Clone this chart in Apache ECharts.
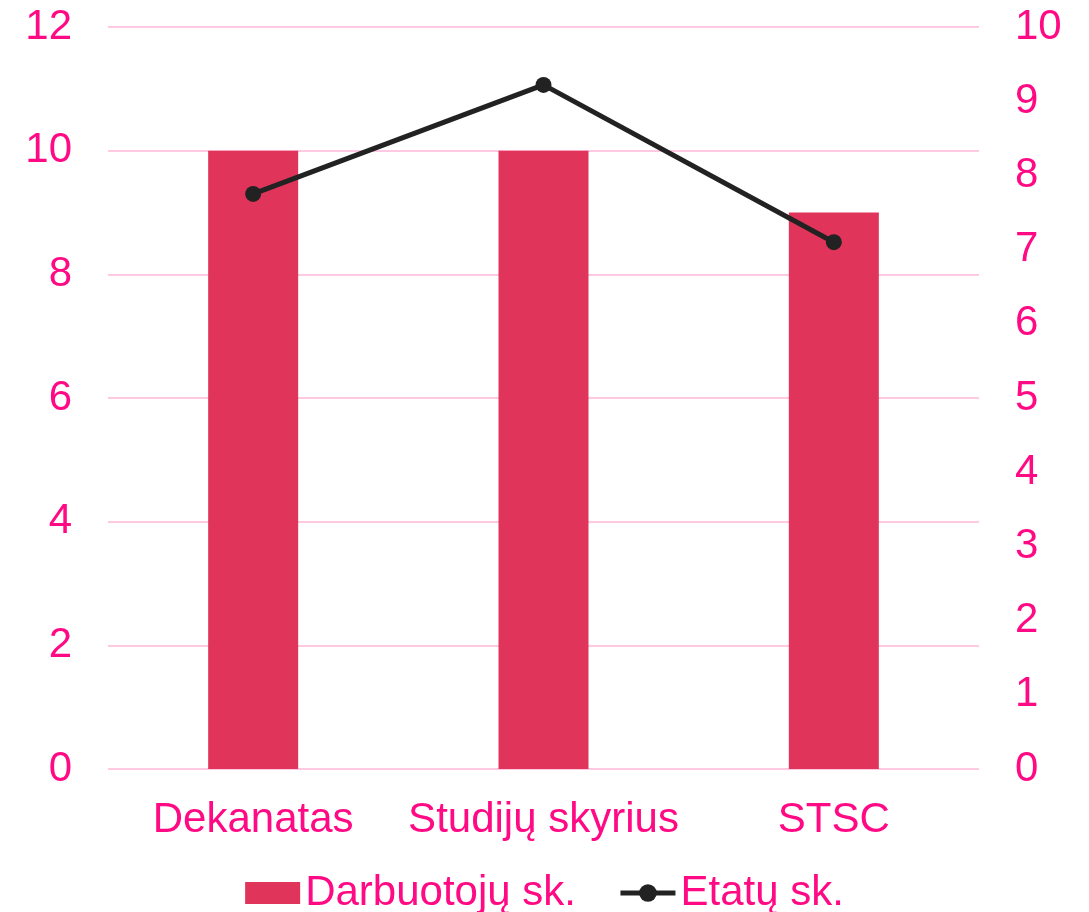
<!DOCTYPE html>
<html>
<head>
<meta charset="utf-8">
<script src="https://cdn.jsdelivr.net/npm/echarts@6/dist/echarts.min.js"></script>
<style>
  html, body { margin: 0; padding: 0; background: #fff; }
  #chart { width: 1089px; height: 912px; }
</style>
</head>
<body>
<div id="chart"></div>
<script>
  // duomenys
  const categories = ['Dekanatas', 'Studijų skyrius', 'STSC']
  const darbuotojai = [10, 10, 9]
  const etatai = [7.75, 9.22, 7.1]
  const leftTicks = { min: 0, max: 12, interval: 2 }
  const rightTicks = { min: 0, max: 10, interval: 1 }

  const pink = '#ff0a84'
  const font = 'Liberation Sans, Arial, sans-serif'

  var myChart = echarts.init(document.getElementById('chart'))
  let option = {
    animation: false,
    grid: { left: 108, right: 110, top: 27, bottom: 143, containLabel: false },
    legend: {
      bottom: -7,
      left: 'center',
      itemWidth: 55,
      itemHeight: 22,
      itemGap: 42,
      textStyle: { color: pink, fontSize: 42, fontFamily: font },
      data: [
        { name: 'Darbuotojų sk.', icon: 'rect' },
        { name: 'Etatų sk.', lineStyle: { width: 5 } }
      ]
    },
    xAxis: {
      type: 'category',
      data: categories,
      axisLine: { show: false },
      axisTick: { show: false },
      axisLabel: { color: pink, fontSize: 42, fontFamily: font, margin: 30, interval: 0 }
    },
    yAxis: [
      {
        type: 'value',
        min: leftTicks.min,
        max: leftTicks.max,
        interval: leftTicks.interval,
        axisLine: { show: false },
        axisTick: { show: false },
        axisLabel: { color: pink, fontSize: 42, fontFamily: font, margin: 36, padding: [5, 0, 0, 0] },
        splitLine: { lineStyle: { color: '#ffc9e3', width: 2 } }
      },
      {
        type: 'value',
        min: rightTicks.min,
        max: rightTicks.max,
        interval: rightTicks.interval,
        axisLine: { show: false },
        axisTick: { show: false },
        axisLabel: { color: pink, fontSize: 42, fontFamily: font, margin: 36, padding: [5, 0, 0, 0] },
        splitLine: { show: false }
      }
    ],
    series: [
      {
        name: 'Darbuotojų sk.',
        type: 'bar',
        data: darbuotojai,
        barWidth: 90,
        itemStyle: { color: '#e0345a' }
      },
      {
        name: 'Etatų sk.',
        type: 'line',
        yAxisIndex: 1,
        data: etatai,
        symbol: 'circle',
        symbolSize: 16,
        color: '#222222',
        lineStyle: { width: 5, color: '#222222' },
        itemStyle: { color: '#222222' }
      }
    ]
  }
  myChart.setOption(option)
</script>
</body>
</html>
